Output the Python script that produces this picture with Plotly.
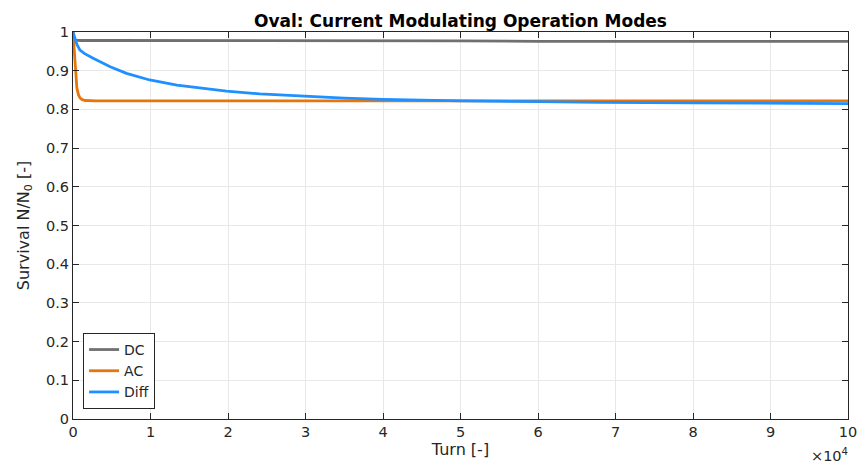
import plotly.graph_objects as go

# Turns (raw) and survival values
dc_turns = [0, 100, 300, 1000, 5000, 10000, 20000, 30000, 40000, 50000, 60000, 70000, 80000, 90000, 100000]
dc_surv = [1.0, 0.985, 0.979, 0.978, 0.978, 0.978, 0.977, 0.977, 0.977, 0.977, 0.976, 0.976, 0.976, 0.976, 0.976]

ac_turns = [0, 100, 200, 350, 500, 700, 900, 1200, 1600, 3000, 10000, 20000, 40000, 60000, 80000, 100000]
ac_surv = [1.0, 0.97, 0.92, 0.88, 0.855, 0.838, 0.830, 0.825, 0.823, 0.822, 0.822, 0.822, 0.822, 0.822, 0.822, 0.822]

diff_turns = [0, 200, 500, 900, 1500, 2600, 4800, 6900, 9900, 13400, 16800, 19800, 24100, 29300,
              35000, 40000, 50000, 60000, 68000, 80000, 90000, 100000]
diff_surv = [1.0, 0.985, 0.968, 0.953, 0.944, 0.932, 0.910, 0.893, 0.876, 0.863, 0.854, 0.847, 0.840, 0.834,
             0.829, 0.826, 0.822, 0.820, 0.818, 0.817, 0.816, 0.815]

x_tickvals = [0, 10000, 20000, 30000, 40000, 50000, 60000, 70000, 80000, 90000, 100000]
x_ticktext = ["0", "1", "2", "3", "4", "5", "6", "7", "8", "9", "10"]
y_tickvals = [0, 0.1, 0.2, 0.3, 0.4, 0.5, 0.6, 0.7, 0.8, 0.9, 1.0]
y_ticktext = ["0", "0.1", "0.2", "0.3", "0.4", "0.5", "0.6", "0.7", "0.8", "0.9", "1"]

FONT = "DejaVu Sans"
AX = "#262626"

fig = go.Figure()
fig.add_trace(go.Scatter(x=dc_turns, y=dc_surv, mode="lines", name="DC",
                         line=dict(color="#707070", width=2.8)))
fig.add_trace(go.Scatter(x=ac_turns, y=ac_surv, mode="lines", name="AC",
                         line=dict(color="#E8740C", width=2.8)))
fig.add_trace(go.Scatter(x=diff_turns, y=diff_surv, mode="lines", name="Diff",
                         line=dict(color="#1E90FF", width=2.8)))

axis_common = dict(showline=True, linecolor=AX, linewidth=1, mirror="ticks",
                   ticks="inside", ticklen=6, tickcolor=AX,
                   showgrid=True, gridcolor="#E8E8E8", gridwidth=1,
                   zeroline=False, automargin=False,
                   tickfont=dict(family=FONT, size=14.5, color=AX))

fig.update_layout(
    width=858, height=466,
    paper_bgcolor="white", plot_bgcolor="white",
    margin=dict(l=73, r=10, t=32, b=47, autoexpand=False),
    title=dict(text="<b>Oval: Current Modulating Operation Modes</b>",
               x=0.5, xref="paper", xanchor="center", y=1, yref="paper", yanchor="bottom",
               pad=dict(b=5), automargin=False,
               font=dict(family=FONT, size=17, color="black")),
    xaxis=dict(range=[0, 100000], tickvals=x_tickvals, ticktext=x_ticktext,
               title=dict(text="Turn [-]", font=dict(family=FONT, size=16, color=AX), standoff=3),
               **axis_common),
    yaxis=dict(range=[0, 1], tickvals=y_tickvals, ticktext=y_ticktext,
               title=dict(text="Survival N/N<sub>0</sub> [-]", font=dict(family=FONT, size=16, color=AX), standoff=12),
               **axis_common),
    legend=dict(x=0.013, y=0.026, xanchor="left", yanchor="bottom",
                bgcolor="white", bordercolor="#262626", borderwidth=1,
                font=dict(family=FONT, size=14, color=AX),
                tracegroupgap=0, itemwidth=30),
    showlegend=True,
    hovermode=False,
)

fig.add_annotation(text="×10<sup>4</sup>", xref="paper", yref="paper", x=1.003, y=-0.093,
                   xanchor="right", yanchor="middle", showarrow=False,
                   font=dict(family=FONT, size=14.5, color=AX))

# remove the default 8px page margin so the figure fills the window exactly
fig.write_html("out.html", config={"displayModeBar": False},
               post_script="document.body.style.margin='0';document.body.style.overflow='hidden';")
